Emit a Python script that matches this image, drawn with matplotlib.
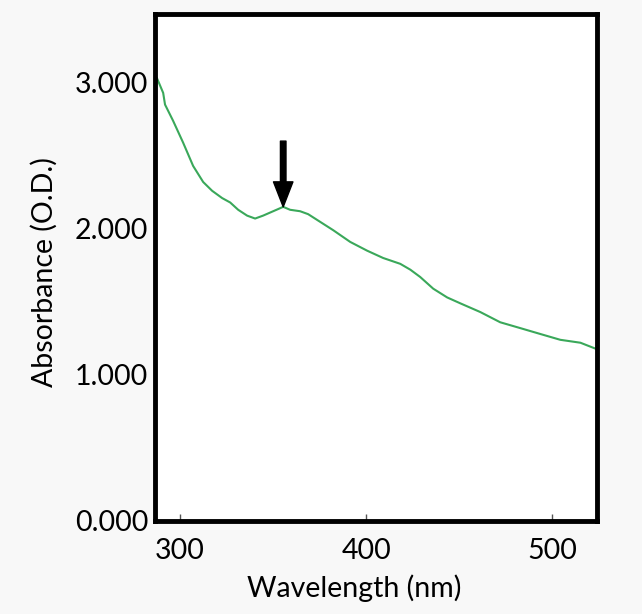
import matplotlib.pyplot as plt
from matplotlib.ticker import FormatStrFormatter

wavelength = [287.6, 290.9, 291.9, 296.2, 301.6, 307.0, 312.4, 317.2, 322.6, 326.9,
              331.2, 336.0, 340.3, 344.6, 350.0, 355.4, 359.1, 364.5, 368.8, 373.7,
              382.3, 391.4, 400.5, 409.1, 418.3, 423.7, 429.0, 436.0, 443.5, 450.5,
              461.3, 472.0, 482.8, 493.5, 504.3, 515.1, 523.1]
absorbance = [3.03, 2.93, 2.85, 2.74, 2.59, 2.43, 2.32, 2.26, 2.21, 2.18,
              2.13, 2.09, 2.07, 2.09, 2.12, 2.15, 2.13, 2.12, 2.10, 2.06,
              1.99, 1.91, 1.85, 1.80, 1.76, 1.72, 1.67, 1.59, 1.53, 1.49,
              1.43, 1.36, 1.32, 1.28, 1.24, 1.22, 1.18]
peak_x, peak_y = 355.4, 2.15
xticks = [300, 400, 500]
yticks = [0, 1, 2, 3]

plt.rcParams['font.family'] = ['Lato', 'DejaVu Sans']

fig = plt.figure(figsize=(6.42, 6.14), dpi=100, facecolor='#f8f8f8')
ax = fig.add_axes([0.2414, 0.1515, 0.6885, 0.8257])
ax.set_facecolor('white')

ax.plot(wavelength, absorbance, color='#3aa85a', linewidth=1.5)

ax.annotate('', xy=(peak_x, peak_y), xytext=(peak_x, 2.60),
            arrowprops=dict(facecolor='black', edgecolor='black',
                            width=4, headwidth=14, headlength=18))

ax.set_xlim(286.5, 524)
ax.set_ylim(0, 3.47)
ax.set_xticks(xticks)
ax.set_yticks(yticks)
ax.yaxis.set_major_formatter(FormatStrFormatter('%.3f'))
ax.tick_params(axis='x', direction='in', length=5, width=1, color='#555555',
               labelsize=20.5, pad=12)
ax.tick_params(axis='y', length=0, labelsize=20.5, pad=5)

for s in ax.spines.values():
    s.set_linewidth(3.5)
    s.set_color('black')

ax.set_xlabel('Wavelength (nm)', fontsize=20.5)
ax.xaxis.set_label_coords(0.45, -0.105)
ax.set_ylabel('Absorbance (O.D.)', fontsize=20.5)
ax.yaxis.set_label_coords(-0.22, 0.49)

plt.savefig('out.png', dpi=100, facecolor=fig.get_facecolor())
